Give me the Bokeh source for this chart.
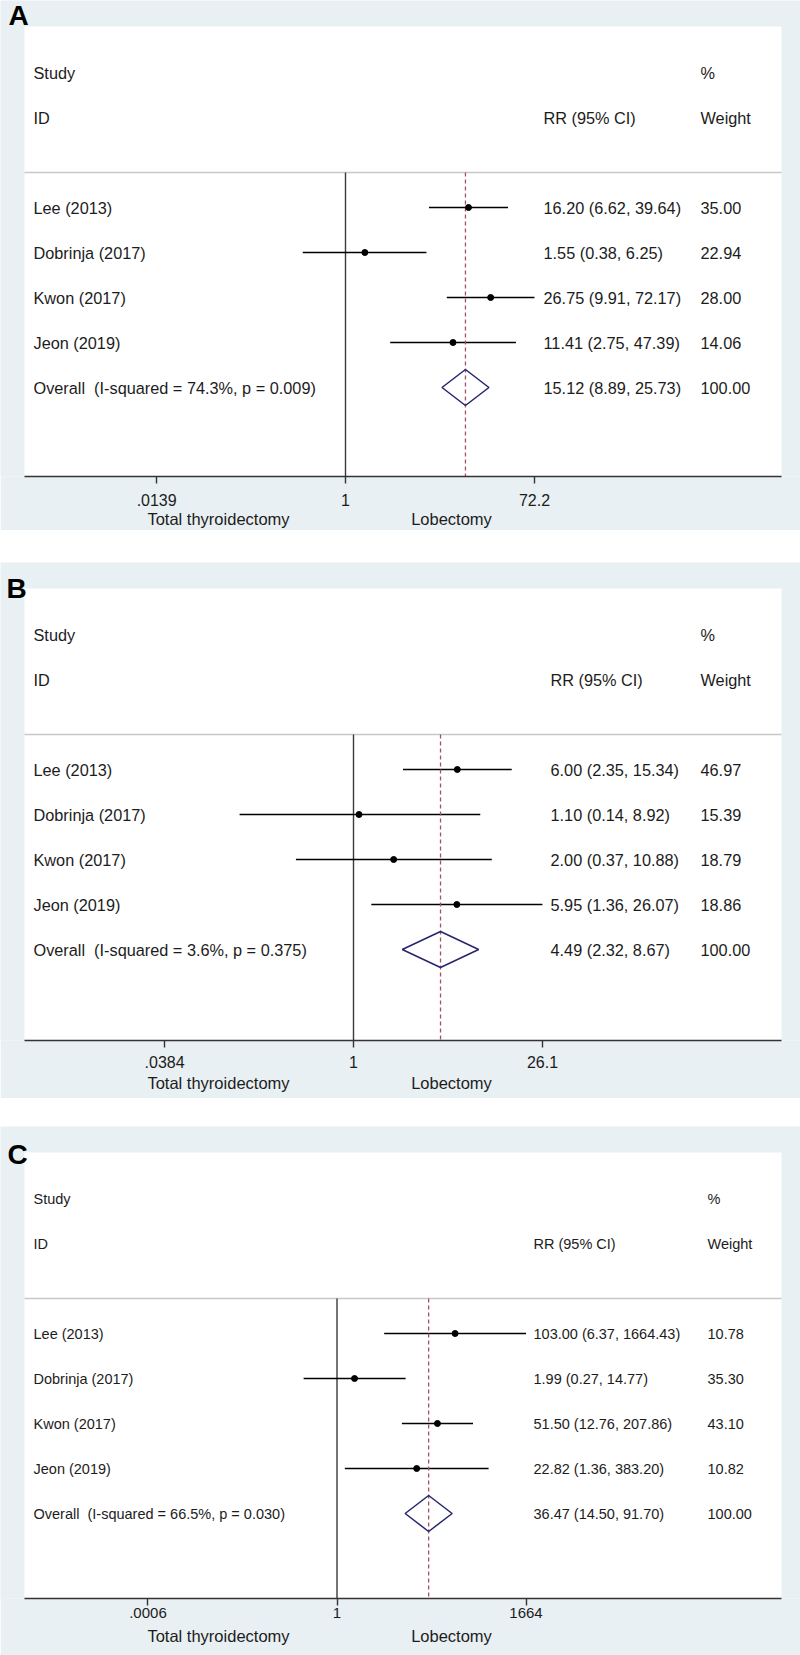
import numpy as np
from bokeh.plotting import figure
from bokeh.models import (Range1d, FixedTicker, ColumnDataSource, Spacer,
                          LinearScale, LinearAxis)
from bokeh.layouts import column
from bokeh.core.properties import value
from bokeh.embed import file_html
from bokeh.resources import INLINE

# ---------------- data ----------------
studies = ["Lee (2013)", "Dobrinja (2017)", "Kwon (2017)", "Jeon (2019)"]

a_rr = [16.20, 1.55, 26.75, 11.41]
a_lo = [6.62, 0.38, 9.91, 2.75]
a_hi = [39.64, 6.25, 72.17, 47.39]
a_wt = [35.00, 22.94, 28.00, 14.06]
a_overall = [15.12, 8.89, 25.73]
a_i2 = 74.3
a_p = "0.009"
a_ticks = [0.0139, 1, 72.2]
a_tick_labels = [".0139", "1", "72.2"]

b_rr = [6.00, 1.10, 2.00, 5.95]
b_lo = [2.35, 0.14, 0.37, 1.36]
b_hi = [15.34, 8.92, 10.88, 26.07]
b_wt = [46.97, 15.39, 18.79, 18.86]
b_overall = [4.49, 2.32, 8.67]
b_i2 = 3.6
b_p = "0.375"
b_ticks = [0.0384, 1, 26.1]
b_tick_labels = [".0384", "1", "26.1"]

c_rr = [103.00, 1.99, 51.50, 22.82]
c_lo = [6.37, 0.27, 12.76, 1.36]
c_hi = [1664.43, 14.77, 207.86, 383.20]
c_wt = [10.78, 35.30, 43.10, 10.82]
c_overall = [36.47, 14.50, 91.70]
c_i2 = 66.5
c_p = "0.030"
c_ticks = [0.0006, 1, 1664]
c_tick_labels = [".0006", "1", "1664"]

left_label = "Total thyroidectomy"
right_label = "Lobectomy"

# ---------------- style / layout ----------------
BG = "#E8F0F3"
TXT = "#1c1c1c"
FONT = "Liberation Sans"
W = 800
BOX_L, BOX_R = 24, 781
ROW0, ROW_H = 181.0, 45.0
HEADER_ROW = -35.0 / 45.0
TICK_HALF = 189.0


def panel(letter, rr, lo, hi, wt, ov, i2, pval, ticks, tick_labels, g):
    ftop, fbot = g["fig_top"], g["fig_bottom"]
    top, axis_y = g["box_top"], g["axis_y"]
    s = TICK_HALF / np.log(max(ticks))
    c = g["center"]
    xr = Range1d(float(np.exp((0 - c) / s)), float(np.exp((W - c) / s)))
    yr = Range1d(start=(axis_y - top - ROW0) / ROW_H, end=(ftop - top - ROW0) / ROW_H)
    p = figure(width=W, height=fbot - ftop,
               x_axis_type="log", x_range=xr, y_range=yr,
               output_backend="svg", toolbar_location=None,
               min_border_left=0, min_border_right=0, min_border_top=0,
               min_border_bottom=fbot - axis_y, y_axis_location=None)
    p.extra_x_ranges = {"px": Range1d(0, W)}
    p.extra_x_scales = {"px": LinearScale()}
    p.extra_y_ranges = {"py": Range1d(axis_y, ftop)}
    p.extra_y_scales = {"py": LinearScale()}
    p.grid.visible = False
    p.outline_line_color = None
    p.background_fill_color = BG
    p.border_fill_color = BG

    n = len(studies)
    rows = list(range(n))

    # white plot box
    p.quad(left=[BOX_L], right=[BOX_R], top=[top], bottom=[axis_y],
           x_range_name="px", y_range_name="py",
           fill_color="white", line_color=None)
    # header separator
    p.segment(x0=[BOX_L], x1=[BOX_R], y0=[HEADER_ROW], y1=[HEADER_ROW],
              x_range_name="px", line_color="#C8C8C8", line_width=1.5)
    # line of no effect
    p.segment(x0=[1], x1=[1], y0=[HEADER_ROW], y1=[yr.start],
              line_color="#3a3a3a", line_width=1.4)
    # CIs
    src = ColumnDataSource(dict(rr=rr, lo=lo, hi=hi, y=rows))
    p.segment(x0="lo", x1="hi", y0="y", y1="y", source=src,
              line_color="black", line_width=1.6)
    # overall dashed line
    p.segment(x0=[ov[0]], x1=[ov[0]], y0=[HEADER_ROW], y1=[yr.start],
              line_color="#A3525F", line_width=1.3, line_dash="4 3")
    p.scatter(x="rr", y="y", source=src, size=6, color="black")
    # diamond
    oy = n
    p.patch(x=[ov[1], ov[0], ov[2], ov[0]], y=[oy, oy - 0.4, oy, oy + 0.4],
            fill_color=None, line_color="#25256F", line_width=1.5)

    # table text
    fs = g["font_size"]
    labels = studies + [f"Overall\u00a0 (I-squared = {i2:.1f}%, p = {pval})"]
    rr_txt = [f"{a:.2f} ({b:.2f}, {c_:.2f})" for a, b, c_ in zip(rr, lo, hi)]
    rr_txt.append(f"{ov[0]:.2f} ({ov[1]:.2f}, {ov[2]:.2f})")
    wt_txt = [f"{w:.2f}" for w in wt] + ["100.00"]
    ys = rows + [n]
    tsrc = ColumnDataSource(dict(
        x=[33] * (n + 1) + [g["rr_x"]] * (n + 1) + [g["wt_x"]] * (n + 1),
        y=ys * 3,
        t=labels + rr_txt + wt_txt))
    p.text(x="x", y="y", text="t", source=tsrc, x_range_name="px",
           text_font=value(FONT), text_font_size=fs, text_color=TXT,
           text_baseline="middle", text_align="left")
    hsrc = ColumnDataSource(dict(
        x=[33, 33, g["rr_x"], g["wt_x"], g["wt_x"]],
        y=[-3, -2, -2, -3, -2],
        t=["Study", "ID", "RR (95% CI)", "%", "Weight"]))
    p.text(x="x", y="y", text="t", source=hsrc, x_range_name="px",
           text_font=value(FONT), text_font_size=fs, text_color=TXT,
           text_baseline="middle", text_align="left")

    # panel letter
    p.text(x=[g["letter_x"]], y=[g["letter_y"]], text=[letter],
           x_range_name="px", y_range_name="py",
           text_font=value(FONT), text_font_style="bold", text_font_size="28px",
           text_color="black", text_baseline="middle", text_align="left")

    # main (log) axis
    ax = p.xaxis[0]
    ax.ticker = FixedTicker(ticks=ticks)
    ax.major_label_overrides = {t: l for t, l in zip(ticks, tick_labels)}
    ax.bounds = (float(np.exp((BOX_L - c) / s)), float(np.exp((BOX_R - c) / s)))
    ax.minor_tick_line_color = None
    ax.major_tick_in = 0
    ax.major_tick_out = 7
    ax.axis_line_color = "#333333"
    ax.axis_line_width = 1.4
    ax.major_tick_line_color = "#333333"
    ax.major_tick_line_width = 1.4
    ax.major_label_text_font = FONT
    ax.major_label_text_font_size = g["tick_size"]
    ax.major_label_text_color = TXT
    ax.major_label_standoff = g["standoff"]

    # direction labels as a second, line-less axis
    dir_pos = [218, 451]
    ax2 = LinearAxis(x_range_name="px", ticker=FixedTicker(ticks=dir_pos),
                     major_label_overrides={dir_pos[0]: left_label, dir_pos[1]: right_label})
    ax2.axis_line_color = None
    ax2.major_tick_line_color = None
    ax2.minor_tick_line_color = None
    ax2.major_tick_in = 0
    ax2.major_tick_out = 0
    ax2.major_label_text_font = FONT
    ax2.major_label_text_font_size = "16.5px"
    ax2.major_label_text_color = TXT
    ax2.major_label_standoff = g["standoff2"]
    p.add_layout(ax2, "below")
    return p


gA = dict(fig_top=0, fig_bottom=530, box_top=26, axis_y=476, center=345,
          rr_x=543, wt_x=700, font_size="16.3px", tick_size="16px", standoff=10,
          standoff2=1, letter_x=8, letter_y=15)
gB = dict(fig_top=562, fig_bottom=1098, box_top=588, axis_y=1040, center=353,
          rr_x=550, wt_x=700, font_size="16.3px", tick_size="16px", standoff=8,
          standoff2=3, letter_x=6, letter_y=587.5)
gC = dict(fig_top=1126, fig_bottom=1655, box_top=1152, axis_y=1598, center=336.5,
          rr_x=533, wt_x=707, font_size="14.5px", tick_size="15px", standoff=2,
          standoff2=6, letter_x=7, letter_y=1154)

pA = panel("A", a_rr, a_lo, a_hi, a_wt, a_overall, a_i2, a_p, a_ticks, a_tick_labels, gA)
pB = panel("B", b_rr, b_lo, b_hi, b_wt, b_overall, b_i2, b_p, b_ticks, b_tick_labels, gB)
pC = panel("C", c_rr, c_lo, c_hi, c_wt, c_overall, c_i2, c_p, c_ticks, c_tick_labels, gC)

layout = column(pA, Spacer(width=W, height=gB["fig_top"] - gA["fig_bottom"]), pB,
                Spacer(width=W, height=gC["fig_top"] - gB["fig_bottom"]), pC,
                spacing=0)

open("out.html", "w").write(file_html(layout, INLINE))
